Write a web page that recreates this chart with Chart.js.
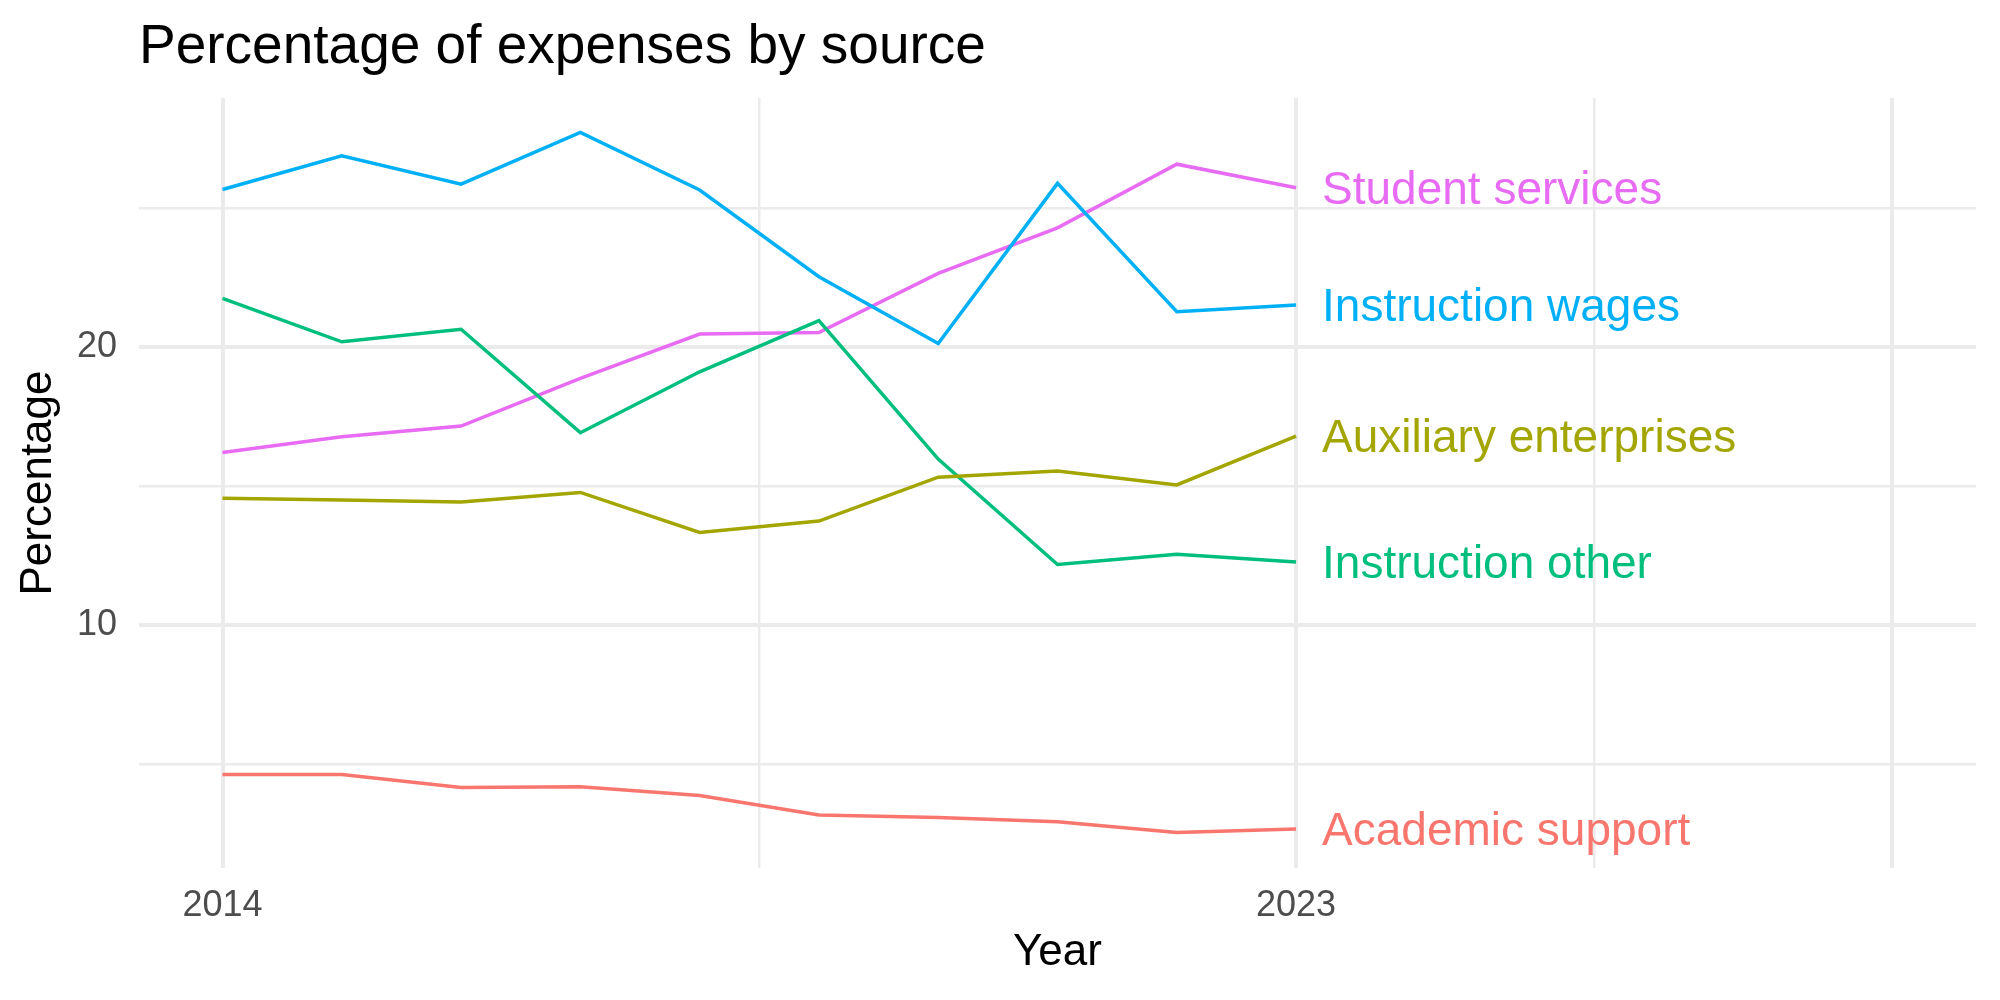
<!DOCTYPE html>
<html>
<head>
<meta charset="utf-8">
<script src="https://cdn.jsdelivr.net/npm/chart.js@4/dist/chart.umd.min.js"></script>
<style>
    body { margin: 0; background: #fff; }
    #wrap { width: 2000px; height: 1000px; }
</style>
</head>
<body>
<div id="wrap"><canvas id="line-chart"></canvas></div>
<script>
//-- Data//
const years = [2014, 2015, 2016, 2017, 2018, 2019, 2020, 2021, 2022, 2023];
const sources = [
    'Academic support',
    'Auxiliary enterprises',
    'Instruction other',
    'Instruction wages',
    'Student services'
];
const academicSupport = [4.62, 4.62, 4.16, 4.18, 3.87, 3.17, 3.08, 2.92, 2.54, 2.66];
const auxiliaryEnterprises = [14.56, 14.5, 14.43, 14.77, 13.33, 13.74, 15.32, 15.54, 15.04, 16.8];
const instructionOther = [21.75, 20.19, 20.64, 16.92, 19.11, 20.95, 15.97, 12.18, 12.55, 12.27];
const instructionWages = [25.67, 26.88, 25.86, 27.72, 25.65, 22.53, 20.13, 25.89, 21.27, 21.51];
const studentServices = [16.21, 16.77, 17.16, 18.87, 20.47, 20.52, 22.65, 24.29, 26.58, 25.73];
const colors = ['#F8766D', '#A3A500', '#00BF7D', '#00B0F6', '#E76BF3'];

// tick labels and grid positions
const xTicks = [2014, 2018.5, 2023, 2025.5, 2028];
const xLabels = { 2014: '2014', 2023: '2023' };
const yTicks = [5, 10, 15, 20, 25];
const yLabels = { 10: '10', 20: '20' };

const allValues = [academicSupport, auxiliaryEnterprises, instructionOther, instructionWages, studentServices];

Chart.defaults.font.family = "'Liberation Sans', Arial, sans-serif";

const gridColor = '#EBEBEB';

//-- Labels at the end of every line//
const endLabels = {
    id: 'endLabels',
    afterDatasetsDraw(chart) {
        const c = chart.ctx;
        c.save();
        c.font = "46px 'Liberation Sans', Arial, sans-serif";
        c.textAlign = 'left';
        c.textBaseline = 'alphabetic';
        chart.data.datasets.forEach((ds, i) => {
            const meta = chart.getDatasetMeta(i);
            const last = meta.data[meta.data.length - 1];
            c.fillStyle = ds.borderColor;
            c.fillText(ds.label, last.x + 26, last.y + 16);
        });
        c.restore();
    }
};

const ctx = document.getElementById('line-chart');

new Chart(ctx, {
    type: 'line',
    data: {
        datasets: sources.map((name, i) => ({
            label: name,
            data: years.map((yr, j) => ({ x: yr, y: allValues[i][j] })),
            borderColor: colors[i],
            backgroundColor: colors[i],
            borderWidth: 3.5,
            pointRadius: 0,
            tension: 0
        }))
    },
    options: {
        responsive: true,
        maintainAspectRatio: false,
        animation: false,
        layout: { padding: { left: 0, right: 24, top: 0, bottom: 0 } },
        plugins: {
            legend: { display: false },
            tooltip: { enabled: false },
            title: {
                display: true,
                text: 'Percentage of expenses by source',
                align: 'start',
                fullSize: false,
                color: '#000',
                font: { size: 55, weight: 'normal' },
                padding: { top: 15, bottom: 17 }
            }
        },
        scales: {
            x: {
                type: 'linear',
                min: 2013.3,
                max: 2028.7,
                afterFit: scale => { scale.height = 132; },
                afterBuildTicks: scale => {
                    scale.ticks = xTicks.map(v => ({ value: v }));
                },
                ticks: {
                    autoSkip: false,
                    maxRotation: 0,
                    padding: 16,
                    color: '#4D4D4D',
                    font: { size: 36 },
                    callback: v => xLabels[v] || ''
                },
                grid: {
                    color: gridColor,
                    drawTicks: false,
                    lineWidth: c => (xLabels[c.tick.value] || c.tick.value === 2028 ? 4 : 2.5)
                },
                border: { display: false },
                title: {
                    display: true,
                    text: 'Year',
                    color: '#000',
                    font: { size: 44 },
                    padding: { top: 0, bottom: 21 }
                }
            },
            y: {
                type: 'linear',
                min: 1.26,
                max: 28.96,
                afterFit: scale => { scale.width = 139; },
                afterBuildTicks: scale => {
                    scale.ticks = yTicks.map(v => ({ value: v }));
                },
                ticks: {
                    autoSkip: false,
                    padding: 22,
                    color: '#4D4D4D',
                    font: { size: 36 },
                    callback: v => yLabels[v] || ''
                },
                grid: {
                    color: gridColor,
                    drawTicks: false,
                    lineWidth: c => (yLabels[c.tick.value] ? 4 : 2.5)
                },
                border: { display: false },
                title: {
                    display: true,
                    text: 'Percentage',
                    color: '#000',
                    font: { size: 44 },
                    padding: { top: 12, bottom: 0 }
                }
            }
        }
    },
    plugins: [endLabels]
});
</script>
</body>
</html>
